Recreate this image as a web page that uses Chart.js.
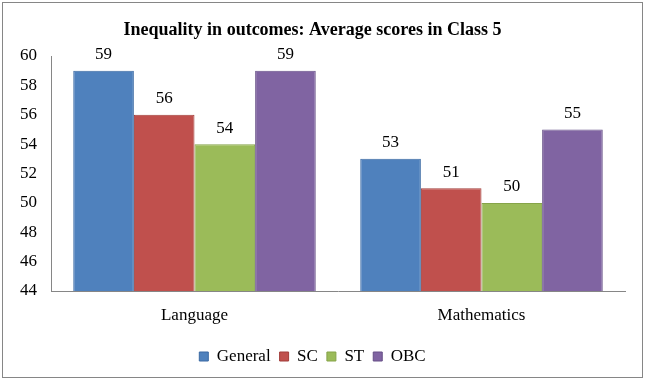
<!DOCTYPE html>
<html>
<head>
<meta charset="utf-8">
<script src="https://cdn.jsdelivr.net/npm/chart.js@4/dist/chart.umd.min.js"></script>
<style>
html,body{margin:0;padding:0;background:#fff;}
#wrap{width:646px;height:382px;position:relative;}
</style>
</head>
<body>
<div id="wrap"><canvas id="c" width="646" height="382"></canvas></div>
<script>
const categories = ["Language", "Mathematics"];
const seriesNames = ["General", "SC", "ST", "OBC"];
const general = [59, 53];
const sc = [56, 51];
const st = [54, 50];
const obc = [59, 55];
const yTicks = [44, 46, 48, 50, 52, 54, 56, 58, 60];

const fills = ["#4F81BD", "#C0504D", "#9BBB59", "#8064A2"];
const borders = ["#3A69A3", "#A23D3A", "#86A449", "#664F87"];
const FONT = "'Liberation Serif', 'Times New Roman', serif";

const borderPlugin = {
  id: 'outerBorder',
  beforeDraw(chart) {
    const ctx = chart.ctx;
    ctx.save();
    ctx.fillStyle = '#fff';
    ctx.fillRect(0, 0, chart.width, chart.height);
    ctx.strokeStyle = '#868686';
    ctx.lineWidth = 1;
    ctx.strokeRect(2.5, 2.5, 640, 375);
    ctx.restore();
  }
};

const labelPlugin = {
  id: 'valueLabels',
  afterDatasetsDraw(chart) {
    const ctx = chart.ctx;
    ctx.save();
    ctx.font = "17px " + FONT;
    ctx.fillStyle = '#000';
    ctx.textAlign = 'center';
    ctx.textBaseline = 'middle';
    chart.data.datasets.forEach((ds, i) => {
      chart.getDatasetMeta(i).data.forEach((bar, j) => {
        ctx.fillText(String(Math.round(ds.data[j])), bar.x, bar.y - 16);
      });
    });
    ctx.restore();
  }
};

const seriesData = [general, sc, st, obc];

new Chart(document.getElementById('c'), {
  type: 'bar',
  data: {
    labels: categories,
    datasets: seriesNames.map((n, i) => ({
      label: n,
      data: seriesData[i],
      backgroundColor: fills[i],
      borderColor: borders[i],
      borderWidth: 1,
      borderSkipped: 'bottom',
      categoryPercentage: 0.845,
      barPercentage: 1.0
    }))
  },
  options: {
    responsive: false,
    animation: false,
    devicePixelRatio: 1,
    layout: { padding: { left: 0, right: 21, top: 0, bottom: 7 } },
    plugins: {
      title: {
        display: true,
        text: 'Inequality in outcomes: Average scores in Class 5',
        font: { family: FONT, size: 18, weight: 'bold' },
        color: '#000',
        padding: { top: 20, bottom: 14.4 }
      },
      legend: {
        position: 'bottom',
        labels: {
          font: { family: FONT, size: 17 },
          color: '#000',
          boxWidth: 9,
          boxHeight: 9,
          padding: 9
        }
      },
      tooltip: { enabled: false }
    },
    scales: {
      x: {
        grid: { display: false, drawTicks: false },
        border: { display: true, color: '#868686', width: 1 },
        ticks: { font: { family: FONT, size: 17 }, color: '#000', padding: 14 },
        afterFit(s) { s.height = 48; }
      },
      y: {
        min: 44, max: 60,
        afterBuildTicks(s) { s.ticks = yTicks.map(v => ({ value: v })); },
        grid: { display: false, drawTicks: false },
        border: { display: true, color: '#868686', width: 1 },
        ticks: { font: { family: FONT, size: 17 }, color: '#000', padding: 14 },
        afterFit(s) { s.width = 51; }
      }
    }
  },
  plugins: [borderPlugin, labelPlugin]
});
</script>
</body>
</html>
